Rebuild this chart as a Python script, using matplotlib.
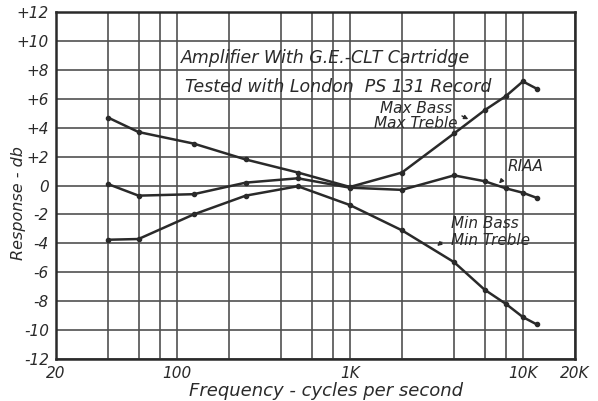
import matplotlib.pyplot as plt
from matplotlib.ticker import FixedLocator, NullFormatter

# 頻率點 (Hz)
freq = [40, 60, 125, 250, 500, 1000, 2000, 4000, 6000, 8000, 10000, 12000]
# 三條響應曲線 (dB)
max_bass_treble = [4.7, 3.7, 2.9, 1.8, 0.9, -0.1, 0.9, 3.6, 5.2, 6.2, 7.2, 6.7]
riaa = [0.1, -0.7, -0.6, 0.2, 0.5, -0.15, -0.3, 0.7, 0.3, -0.2, -0.5, -0.85]
min_bass_treble = [-3.75, -3.7, -2.0, -0.7, -0.05, -1.35, -3.1, -5.3, -7.2, -8.2, -9.1, -9.6]

grid_freq = [40, 60, 80, 200, 400, 600, 800, 2000, 4000, 6000, 8000]
label_freq = [20, 100, 1000, 10000, 20000]
label_text = ["20", "100", "1K", "10K", "20K"]
y_ticks = list(range(-12, 13, 2))
y_text = [("+" + str(v)) if v > 0 else str(v) for v in y_ticks]

plt.rcParams['font.family'] = 'DejaVu Sans'
ink = "#2a2a2a"

fig = plt.figure(figsize=(5.98, 4.01), dpi=100)
ax = fig.add_axes([0.0936, 0.1047, 0.8679, 0.8653])

for y in (max_bass_treble, riaa, min_bass_treble):
    ax.plot(freq, y, color=ink, lw=1.8, marker="o", ms=3, zorder=3)

ax.set_xscale("log")
ax.set_xlim(20, 20000)
ax.set_ylim(-12, 12)
ax.xaxis.set_major_locator(FixedLocator(label_freq))
ax.xaxis.set_minor_locator(FixedLocator(grid_freq))
ax.xaxis.set_minor_formatter(NullFormatter())
ax.set_xticklabels(label_text, fontstyle="italic", fontsize=11)
ax.set_yticks(y_ticks)
ax.set_yticklabels(y_text, fontstyle="italic", fontsize=11)
ax.tick_params(which="both", length=0, pad=5, colors=ink)
ax.grid(which="both", color="#505050", lw=1.2)
for s in ax.spines.values():
    s.set_color(ink)
    s.set_linewidth(1.8)

ax.set_xlabel("Frequency - cycles per second", fontstyle="italic", fontsize=13,
              color=ink)
ax.xaxis.set_label_coords(0.52, -0.065)
ax.set_ylabel("Response - db", fontstyle="italic", fontsize=11.5, color=ink)
ax.yaxis.set_label_coords(-0.058, 0.45)

ax.text(106, 8.8, "Amplifier With G.E.-CLT Cartridge", va="center",
        fontstyle="italic", fontsize=12.5, color=ink, zorder=4)
ax.text(112, 6.8, "Tested with London  PS 131 Record", va="center",
        fontstyle="italic", fontsize=12.5, color=ink, zorder=4)
ax.text(2400, 4.8, "Max Bass\nMax Treble", ha="center", va="center",
        fontstyle="italic", fontsize=11, color=ink, linespacing=1.0, zorder=4)
ax.annotate("", xy=(5000, 4.5), xytext=(4300, 4.9),
            arrowprops=dict(arrowstyle="-|>", color=ink, lw=1, mutation_scale=6))
ax.text(8200, 1.3, "RIAA", ha="left", va="center",
        fontstyle="italic", fontsize=11, color=ink, zorder=4)
ax.annotate("", xy=(7100, 0.0), xytext=(7750, 0.5),
            arrowprops=dict(arrowstyle="-|>", color=ink, lw=1, mutation_scale=6))
ax.text(3850, -3.2, "Min Bass\nMin Treble", ha="left", va="center",
        fontstyle="italic", fontsize=11, color=ink, linespacing=1.15, zorder=4)
ax.annotate("", xy=(3100, -4.3), xytext=(3500, -3.8),
            arrowprops=dict(arrowstyle="-|>", color=ink, lw=1, mutation_scale=6))

fig.savefig("out.png", dpi=100)
